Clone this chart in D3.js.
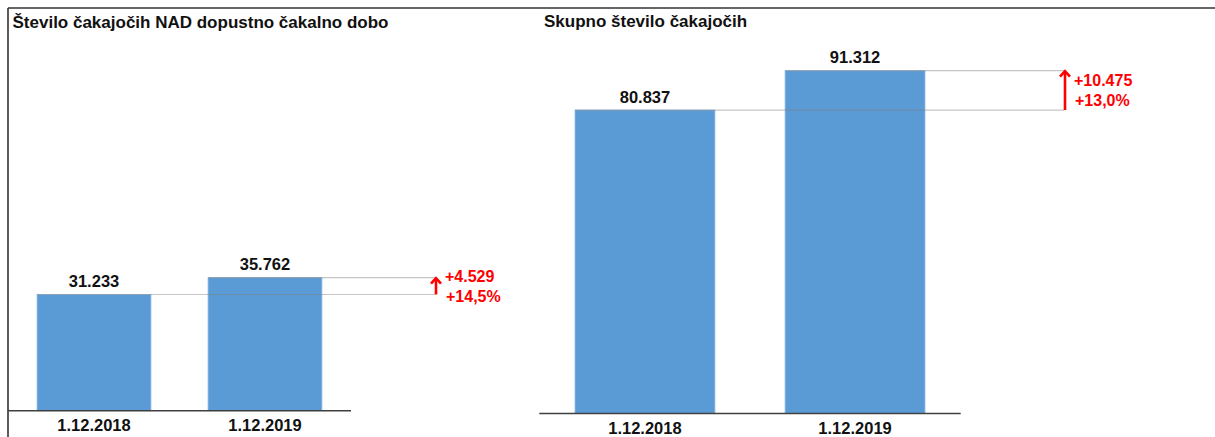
<!DOCTYPE html>
<html>
<head>
<meta charset="utf-8">
<script src="https://cdn.jsdelivr.net/npm/d3@7"></script>
<style>
body{margin:0;background:#fff;}
svg{display:block;font-family:"Liberation Sans",Arial,sans-serif;font-weight:bold;}
</style>
</head>
<body>
<div id="chart"></div>
<script>
//Data
const categories=["1.12.2018","1.12.2019"];
const waitingOverLimit=[31233,35762];
const waitingTotal=[80837,91312];
const titles=["Število čakajočih NAD dopustno čakalno dobo","Skupno število čakajočih"];

const width=1215;
const height=437;

const svg=d3.select("#chart")
          .append("svg")
          .attr("width",width)
          .attr("height",height);

//Slovenian number style: 31.233 and 14,5
const si=d3.formatLocale({decimal:",",thousands:".",grouping:[3],currency:["","€"]});
const fmtInt=si.format(",d");
const fmtPct=si.format(".1f");

//Outer frame (top and left)
svg.append("line").attr("x1",8).attr("x2",width).attr("y1",8).attr("y2",8)
   .attr("stroke","#333").attr("stroke-width",1.6);
svg.append("line").attr("x1",8).attr("x2",8).attr("y1",8).attr("y2",height)
   .attr("stroke","#333").attr("stroke-width",1.6);

//Panel layout
const panels=[
    {title:titles[0],values:waitingOverLimit,x0:8,x1:351,yBase:410.7,yTop:38.7,titleX:12.5,titleY:28,lineEnd:435},
    {title:titles[1],values:waitingTotal,x0:539.3,x1:960.7,yBase:413.5,yTop:38.1,titleX:544,titleY:27,lineEnd:1064}
];

panels.forEach(p=>drawPanel(p));

function drawPanel(p){
    const g=svg.append("g");
    const x=d3.scaleBand()
        .domain(categories)
        .range([p.x0,p.x1])
        .paddingInner(0.334)
        .paddingOuter(0.17);
    const y=d3.scaleLinear()
        .domain([0,100000])
        .range([p.yBase,p.yTop]);

    g.append("text")
        .attr("x",p.titleX).attr("y",p.titleY)
        .attr("font-size",17)
        .attr("fill","#111")
        .text(p.title);

    //bars
    g.selectAll("rect")
        .data(p.values)
        .enter()
        .append("rect")
        .attr("x",(d,i)=>x(categories[i]))
        .attr("y",d=>y(d))
        .attr("width",x.bandwidth())
        .attr("height",d=>y(0)-y(d))
        .attr("fill","#5B9BD5")
        .attr("stroke","#8fbbe6")
        .attr("stroke-width",0.8);

    //value labels
    g.selectAll("text.val")
        .data(p.values)
        .enter()
        .append("text")
        .attr("class","val")
        .attr("x",(d,i)=>x(categories[i])+x.bandwidth()/2)
        .attr("y",d=>y(d)-7.5)
        .attr("text-anchor","middle")
        .attr("font-size",16.5)
        .attr("fill","#111")
        .text(d=>fmtInt(d));

    //baseline
    g.append("line")
        .attr("x1",p.x0).attr("x2",p.x1)
        .attr("y1",y(0)).attr("y2",y(0))
        .attr("stroke","#404040").attr("stroke-width",1.5);

    //category labels
    g.selectAll("text.cat")
        .data(categories)
        .enter()
        .append("text")
        .attr("class","cat")
        .attr("x",d=>x(d)+x.bandwidth()/2)
        .attr("y",y(0)+20)
        .attr("text-anchor","middle")
        .attr("font-size",16.5)
        .attr("fill","#111")
        .text(d=>d);

    //grey connector lines from each bar top to the arrow
    g.selectAll("line.conn")
        .data(p.values)
        .enter()
        .append("line")
        .attr("class","conn")
        .attr("x1",(d,i)=>x(categories[i]))
        .attr("x2",p.lineEnd)
        .attr("y1",d=>y(d)).attr("y2",d=>y(d))
        .attr("stroke","#7f7f7f")
        .attr("stroke-opacity",0.45)
        .attr("stroke-width",1.2);

    //red arrow with change
    const a=p.values[0], b=p.values[1];
    const ax=p.lineEnd+1;
    const ya=y(a), yb=y(b);
    g.append("line")
        .attr("x1",ax).attr("x2",ax)
        .attr("y1",ya).attr("y2",yb+1)
        .attr("stroke","#ff0000").attr("stroke-width",2.6);
    g.append("path")
        .attr("d",`M${ax-5},${yb+6}L${ax},${yb+0.5}L${ax+5},${yb+6}`)
        .attr("fill","none")
        .attr("stroke","#ff0000").attr("stroke-width",2.6);

    const mid=(ya+yb)/2;
    const lbl=g.append("text")
        .attr("font-size",16)
        .attr("fill","#ff0000");
    lbl.append("tspan").attr("x",ax+9).attr("y",mid-4).text("+"+fmtInt(b-a));
    lbl.append("tspan").attr("x",ax+10).attr("y",mid+16).text("+"+fmtPct((b-a)/a*100)+"%");
}
</script>
</body>
</html>
